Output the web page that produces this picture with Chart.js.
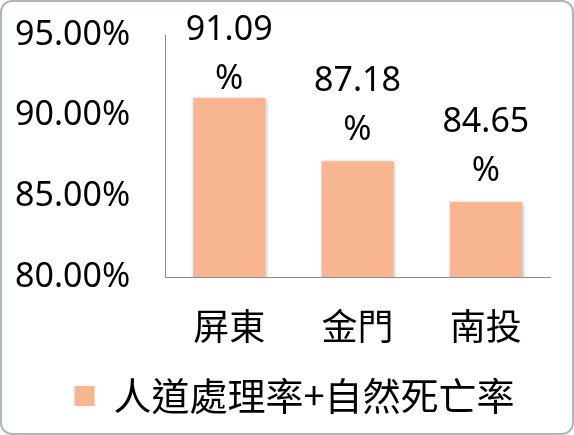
<!DOCTYPE html>
<html>
<head>
<meta charset="utf-8">
<script src="https://cdn.jsdelivr.net/npm/chart.js@4"></script>
<style>
  html, body { margin: 0; padding: 0; background: #fff; }
  #wrap { position: relative; width: 574px; height: 435px; }
  #frame {
    position: absolute; left: 0; top: 0; width: 574px; height: 435px;
    box-sizing: border-box; border: 2px solid #aeb6b6; border-radius: 12px;
    pointer-events: none;
  }
</style>
</head>
<body>
<div id="wrap">
  <canvas id="graph" width="574" height="435"></canvas>
  <div id="frame"></div>
</div>
<script>
const categories = ['屏東', '金門', '南投']
const rates = [91.09, 87.18, 84.65]
const seriesName = '人道處理率+自然死亡率'
const yTicks = [80, 85, 90, 95]

const barColor = '#F8B690'

// light shadow under the bars
const barShadow = {
    id: 'barShadow',
    beforeDatasetsDraw(chart){
        const ctx = chart.ctx
        ctx.save()
        ctx.shadowColor = 'rgba(0,0,0,0.3)'
        ctx.shadowBlur = 4
        ctx.shadowOffsetX = 1
        ctx.shadowOffsetY = 1
    },
    afterDatasetsDraw(chart){
        chart.ctx.restore()
    }
}

// value labels above the bars, "%" on its own line
const valueLabels = {
    id: 'valueLabels',
    afterDatasetsDraw(chart){
        const ctx = chart.ctx
        const meta = chart.getDatasetMeta(0)
        ctx.save()
        ctx.font = '34px "Noto Sans"'
        ctx.fillStyle = '#000'
        ctx.textAlign = 'center'
        ctx.textBaseline = 'middle'
        meta.data.forEach((bar, i) => {
            const value = chart.data.datasets[0].data[i]
            // keep the first line inside the frame
            let y = Math.max(bar.y - 80, 30)
            ctx.fillText(value.toFixed(2), bar.x, y)
            ctx.fillText('%', bar.x, y + 49)
        })
        ctx.restore()
    }
}

// legend sits a bit right of the canvas centre in the original
const legendShift = {
    id: 'legendShift',
    afterLayout(chart){
        chart.legend.left += 12
        chart.legend.right += 12
    }
}

function setGraph(){
    const ctx = document.getElementById('graph').getContext('2d')
    const structGraph = {
        type: 'bar',
        data: {
            labels: categories,
            datasets: [{
                label: seriesName,
                data: rates,
                backgroundColor: barColor,
                borderWidth: 0,
                categoryPercentage: 0.8,
                barPercentage: 0.7
            }]
        },
        options: {
            responsive: false,
            animation: false,
            layout: { padding: { left: 15, top: 35, right: 24, bottom: 10 } },
            plugins: {
                tooltip: { enabled: false },
                legend: {
                    position: 'bottom',
                    labels: {
                        boxWidth: 20,
                        boxHeight: 20,
                        padding: 10,
                        color: '#000',
                        font: { family: '"Noto Sans CJK TC"', size: 38 }
                    }
                }
            },
            scales: {
                x: {
                    grid: { display: false, drawTicks: false },
                    border: { display: true, color: '#8c8c8c', width: 1 },
                    ticks: {
                        padding: 28,
                        color: '#000',
                        font: { family: '"Noto Sans CJK TC"', size: 36 }
                    },
                    afterFit(scale){ scale.height = 90 }
                },
                y: {
                    min: 80,
                    max: 95,
                    grid: { display: false, drawTicks: false },
                    border: { display: true, color: '#8c8c8c', width: 1 },
                    afterBuildTicks(scale){
                        scale.ticks = yTicks.map(v => ({ value: v }))
                    },
                    ticks: {
                        padding: 0,
                        crossAlign: 'far',
                        color: '#000',
                        font: { family: '"Noto Sans"', size: 34 },
                        callback: v => v.toFixed(2) + '%'
                    },
                    afterFit(scale){ scale.width = 150 }
                }
            }
        },
        plugins: [barShadow, valueLabels, legendShift]
    }
    const myChart = new Chart(ctx, structGraph)
}

setGraph()
</script>
</body>
</html>
